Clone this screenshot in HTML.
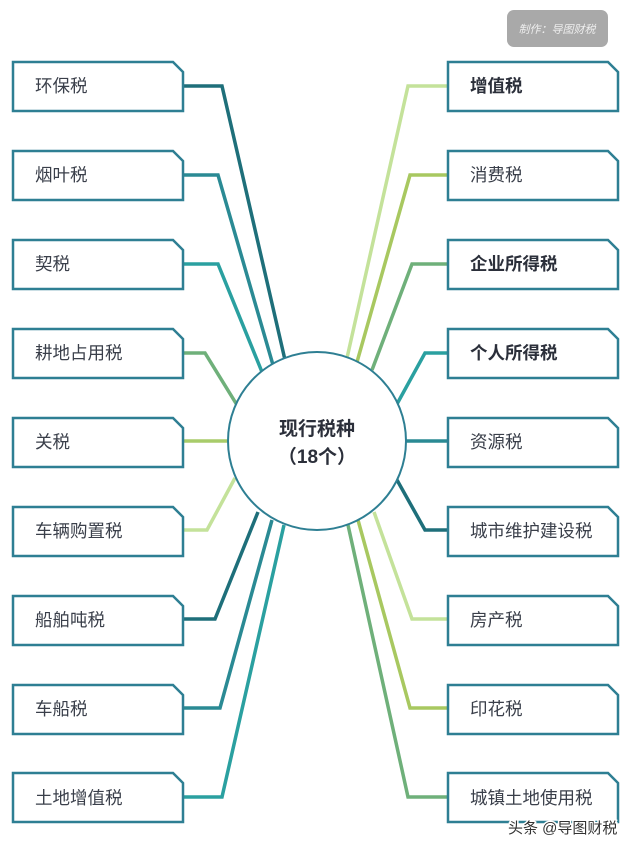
<!DOCTYPE html>
<html><head><meta charset="utf-8"><style>
body{margin:0;background:#fff;}
text{font-family:"Liberation Sans","Noto Sans CJK SC",sans-serif;}
</style></head><body>
<svg width="640" height="850" viewBox="0 0 640 850" xmlns="http://www.w3.org/2000/svg">
<rect width="640" height="850" fill="#fff"/>
<rect x="507" y="10" width="101" height="37" rx="7" fill="#a9a9a9"/>
<text x="557" y="33" font-size="11" fill="#eee" text-anchor="middle" font-style="italic">制作：导图财税</text>
<g fill="none" stroke-width="3.5" stroke-linejoin="miter">
<polyline points="183,86 222,86 285,360" stroke="#1e6f7a"/>
<polyline points="183,175 218,175 273,365" stroke="#2a8a94"/>
<polyline points="183,264 218,264 262,372" stroke="#2aa0a0"/>
<polyline points="183,353 205,353 237,405" stroke="#6fb07a"/>
<polyline points="183,441 229,441" stroke="#a8cc6a"/>
<polyline points="183,530 207,530 235,478" stroke="#c4e29a"/>
<polyline points="183,619 215,619 258,512" stroke="#1e6f7a"/>
<polyline points="183,708 220,708 272,520" stroke="#2a8a94"/>
<polyline points="183,797 222,797 284,525" stroke="#2aa0a0"/>
<polyline points="448,86 408,86 347,358" stroke="#c4e29a"/>
<polyline points="448,175 410,175 357,362" stroke="#a8c860"/>
<polyline points="448,264 412,264 372,370" stroke="#6fb07a"/>
<polyline points="448,353 425,353 397,404" stroke="#2aa0a0"/>
<polyline points="448,441 405,441" stroke="#2a8a94"/>
<polyline points="448,530 425,530 397,480" stroke="#1e6f7a"/>
<polyline points="448,619 412,619 374,512" stroke="#c4e29a"/>
<polyline points="448,708 410,708 358,520" stroke="#a8c860"/>
<polyline points="448,797 408,797 348,525" stroke="#6fb07a"/>
</g>
<circle cx="317" cy="441" r="89" fill="#fff" stroke="#2e7f93" stroke-width="2"/>
<text x="317" y="435" font-size="19" font-weight="bold" fill="#2b2f3a" text-anchor="middle">现行税种</text>
<text x="317" y="463" font-size="19" font-weight="bold" fill="#2b2f3a" text-anchor="middle">（18个）</text>
<g fill="#fff" stroke="#2e7f93" stroke-width="2.5">
<path d="M13,62 H173 L183,72 V111 H13 Z"/>
<path d="M13,151 H173 L183,161 V200 H13 Z"/>
<path d="M13,240 H173 L183,250 V289 H13 Z"/>
<path d="M13,329 H173 L183,339 V378 H13 Z"/>
<path d="M13,418 H173 L183,428 V467 H13 Z"/>
<path d="M13,507 H173 L183,517 V556 H13 Z"/>
<path d="M13,596 H173 L183,606 V645 H13 Z"/>
<path d="M13,685 H173 L183,695 V734 H13 Z"/>
<path d="M13,773 H173 L183,783 V822 H13 Z"/>
<path d="M448,62 H608 L618,72 V111 H448 Z"/>
<path d="M448,151 H608 L618,161 V200 H448 Z"/>
<path d="M448,240 H608 L618,250 V289 H448 Z"/>
<path d="M448,329 H608 L618,339 V378 H448 Z"/>
<path d="M448,418 H608 L618,428 V467 H448 Z"/>
<path d="M448,507 H608 L618,517 V556 H448 Z"/>
<path d="M448,596 H608 L618,606 V645 H448 Z"/>
<path d="M448,685 H608 L618,695 V734 H448 Z"/>
<path d="M448,773 H608 L618,783 V822 H448 Z"/>
</g>
<g font-size="17.5" fill="#3a3f4a">
<text x="35" y="92">环保税</text>
<text x="35" y="181">烟叶税</text>
<text x="35" y="270">契税</text>
<text x="35" y="359">耕地占用税</text>
<text x="35" y="448">关税</text>
<text x="35" y="537">车辆购置税</text>
<text x="35" y="626">船舶吨税</text>
<text x="35" y="715">车船税</text>
<text x="35" y="804">土地增值税</text>
<text x="470" y="92" font-weight="bold" fill="#2b2f3a">增值税</text>
<text x="470" y="181">消费税</text>
<text x="470" y="270" font-weight="bold" fill="#2b2f3a">企业所得税</text>
<text x="470" y="359" font-weight="bold" fill="#2b2f3a">个人所得税</text>
<text x="470" y="448">资源税</text>
<text x="470" y="537">城市维护建设税</text>
<text x="470" y="626">房产税</text>
<text x="470" y="715">印花税</text>
<text x="470" y="804">城镇土地使用税</text>
</g>
<text x="508" y="833" font-size="15" fill="#333" stroke="#fff" stroke-width="3" paint-order="stroke">头条 @导图财税</text>
</svg>
</body></html>
